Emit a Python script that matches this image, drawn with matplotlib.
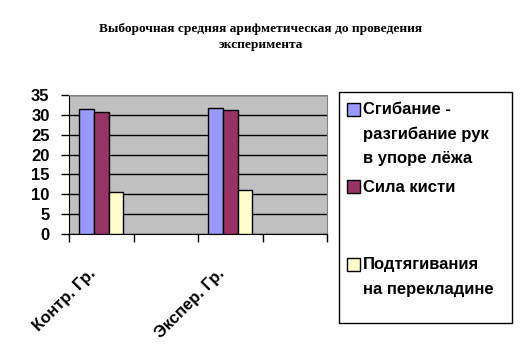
import numpy as np
import matplotlib.pyplot as plt
from matplotlib.patches import Rectangle

# данные
groups = ['Контр. Гр.', '', 'Экспер. Гр.', '']
series = ['Сгибание -\nразгибание рук\nв упоре лёжа',
          'Сила кисти',
          'Подтягивания\nна перекладине']
sgibanie = [31.4, np.nan, 31.7, np.nan]
sila = [30.7, np.nan, 31.2, np.nan]
podtyag = [10.5, np.nan, 11.1, np.nan]
colors = ['#9999FF', '#993366', '#FFFFCC']

W, H = 522, 357
fig = plt.figure(figsize=(W / 100, H / 100), dpi=100)

def px(x, y):
    # пиксели -> координаты фигуры
    return x / W, 1 - y / H

ax = fig.add_axes([69 / W, 1 - 234 / H, (327 - 69) / W, (234 - 95) / H])
ax.set_facecolor('#C0C0C0')

x = np.arange(len(groups))
w = 0.225
for i, (vals, c) in enumerate(zip([sgibanie, sila, podtyag], colors)):
    ax.bar(x + (i - 1) * w, vals, w, color=c, edgecolor='black',
           linewidth=1, zorder=3)

ax.set_ylim(0, 35)
ax.set_xlim(-0.5, len(groups) - 0.5)
ax.set_yticks(range(0, 36, 5))
ax.yaxis.grid(True, color='black', linewidth=1, zorder=1)
ax.set_axisbelow(True)

ax.set_xticks(np.arange(len(groups) + 1) - 0.5)
ax.set_xticklabels([])
ax.set_xticks(x - 0.2, groups, minor=True, rotation=45, ha='right',
              va='top', rotation_mode='anchor', fontweight='bold',
              fontsize=12, family='Liberation Sans')
ax.tick_params(axis='x', which='minor', length=0, pad=23)
ax.tick_params(axis='x', which='major', length=6, width=1, direction='out')
ax.tick_params(axis='y', length=6, width=1, direction='out', pad=8)
for lbl in ax.get_yticklabels():
    lbl.set_fontweight('bold')
    lbl.set_fontsize(12)
    lbl.set_family('Liberation Sans')

for s in ['top', 'right']:
    ax.spines[s].set_color('#808080')
for s in ['left', 'bottom']:
    ax.spines[s].set_color('black')

fig.text(0.5, 1 - 37 / H,
         'Выборочная средняя арифметическая до проведения\nэксперимента',
         ha='center', va='center', family='Liberation Serif',
         fontweight='bold', fontsize=9.6, linespacing=1.45)

# легенда
x0, y0 = px(339, 323)
x1, y1 = px(512, 92)
fig.patches.append(Rectangle((x0, y0), x1 - x0, y1 - y0, transform=fig.transFigure,
                             facecolor='white', edgecolor='black', linewidth=1))
tops = [110, 187, 265]
step = 24.5
for name, c, ty in zip(series, colors, tops):
    sx, sy = px(347, ty + 6)
    fig.patches.append(Rectangle((sx, sy), 13 / W, 13 / H, transform=fig.transFigure,
                                 facecolor=c, edgecolor='black', linewidth=1))
    for k, line in enumerate(name.split('\n')):
        tx, tyy = px(363, ty + k * step)
        fig.text(tx, tyy, line, ha='left', va='center', fontweight='bold',
                 fontsize=12, family='Liberation Sans')

fig.savefig('out.png', dpi=100)
